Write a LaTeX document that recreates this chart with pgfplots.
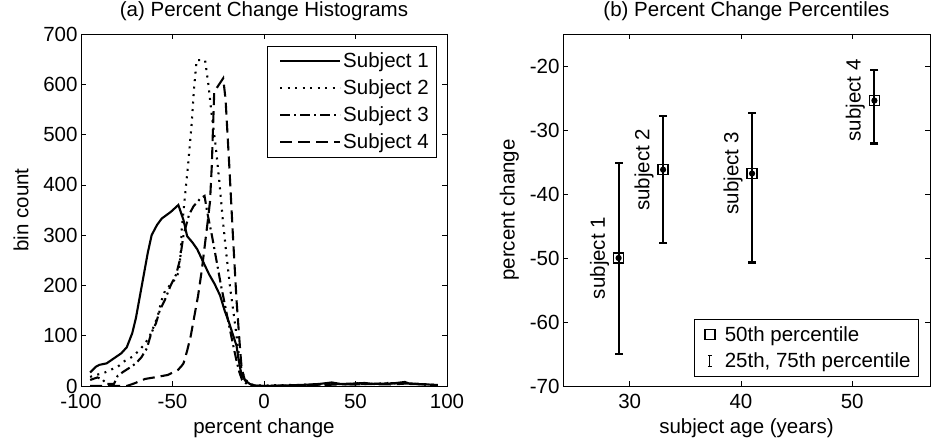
\documentclass[border=0pt]{standalone}
\usepackage{fontspec}
\setmainfont{Liberation Sans}
\usepackage{pgfplots}
\pgfplotsset{compat=1.18}

\newcommand\ff{\fontsize{20.5}{24}\selectfont}

\pgfplotsset{
  matstyle/.style={
    scale only axis,
    height=352pt,
    anchor=south west,
    axis line style={line width=0.8pt},
    tick align=inside,
    major tick length=5pt,
    tick style={line width=0.6pt, black},
    font=\ff,
    /pgf/number format/assume math mode=true,
    ticklabel style={font=\ff},
    xticklabel style={yshift=-5pt},
    every axis title shift=0pt,
    title style={at={(axis description cs:0.5,1.0645)}, anchor=center, font=\ff},
    xlabel style={at={(axis description cs:0.5,-0.12)}, anchor=center, font=\ff},
    legend style={font=\ff, draw=black, line width=0.8pt,
      nodes={inner sep=2pt}, row sep=6.5pt, inner xsep=6pt, inner ysep=5pt},
    legend cell align=left,
    every axis plot/.append style={black, line width=2.1pt},
  },
  linelegend/.style={legend image code/.code={\path (-6pt,0pt); \draw[##1] (0pt,0pt) -- (60pt,0pt);}},
  sqlegend/.style={legend image code/.code={\path (0pt,0pt) (0.3cm+12pt,0pt);
    \draw[##1] plot coordinates {(0.3cm,0cm)};}},
}

\begin{document}
\begin{tikzpicture}
\useasboundingbox (0pt,0pt) rectangle (946pt,443pt);

% (a) histograms
\begin{axis}[matstyle, linelegend,
  at={(81pt,57pt)}, width=366pt,
  xmin=-100, xmax=100, ymin=0, ymax=700,
  xtick={-100,-50,0,50,100}, ytick={0,100,...,700},
  title={(a) Percent Change Histograms},
  xlabel={percent change}, ylabel={bin count},
  ylabel style={at={(axis description cs:-0.164,0.5)}, anchor=center, font=\ff},
  legend style={at={(axis description cs:0.973,0.967)}, anchor=north east},
]
\addplot[solid, mark=none] coordinates {(-95,27)(-92,38)(-90,42)(-86,45)(-82,55)(-78,65)(-75,77)(-72,105)(-70,135)(-68,175)(-66,215)(-63.5,265)(-61.4,300)(-58.5,320)(-55.9,333)(-51,346)(-46.8,360)(-44,330)(-42,298)(-39,285)(-36.5,272)(-33,245)(-30,222)(-27,203)(-24,180)(-21.5,150)(-19,125)(-17,102)(-15,80)(-14,55)(-13,35)(-12,20)(-10,10)(-7.7,4)(-5,1)(0,0)(10,1)(20,2)(30,4)(37,7)(42,4)(50,5)(55,6)(60,4)(70,5)(77,8)(80,4)(90,3)(95,1)};
\addlegendentry{Subject 1}
\addplot[mark=none, dash pattern=on 2pt off 5.5pt] coordinates {(-95,18)(-92,22)(-88,25)(-84,32)(-80,38)(-76,50)(-72,58)(-69,68)(-66,80)(-63,95)(-60,120)(-58,140)(-56,170)(-54,190)(-51,202)(-48,215)(-46.5,228)(-45.5,265)(-45,310)(-43.2,377)(-41.4,443)(-39.5,523)(-38.3,589)(-36.8,648)(-32.2,648)(-30.4,600)(-28.6,540)(-26.5,480)(-24.5,410)(-22.5,330)(-20.5,260)(-18.5,195)(-16.8,150)(-15,100)(-13.5,55)(-12,28)(-10,12)(-7.5,4)(-5,1)(0,1)(15,2)(30,3)(37,5)(45,3)(52,6)(60,4)(68,6)(75,5)(85,4)(95,2)};
\addlegendentry{Subject 2}
\addplot[mark=none, dash pattern=on 10pt off 4pt on 2pt off 4pt] coordinates {(-95,12)(-91,17)(-88,12)(-86,4)(-82,4)(-80,20)(-77,28)(-74,35)(-70,45)(-67,57)(-64,75)(-61.6,105)(-59,125)(-57,150)(-54.3,170)(-51,200)(-48,222)(-46,250)(-44,300)(-41,340)(-38.6,357)(-35,372)(-32.5,378)(-31,345)(-28.5,300)(-26,250)(-23.5,200)(-21,155)(-18.5,110)(-16.5,75)(-15,50)(-13.5,28)(-12,12)(-9,3)(-5,0)(0,0)(20,1)(35,4)(50,3)(65,5)(77,6)(95,1)};
\addlegendentry{Subject 3}
\addplot[mark=none, dash pattern=on 12pt off 6pt] coordinates {(-95,0)(-75,0)(-71,5)(-65,14)(-60,17)(-52.5,22)(-47,32)(-45,40)(-44,45)(-42,70)(-40,100)(-38,140)(-36,180)(-34,230)(-32,290)(-30.5,335)(-29.5,367)(-28.5,440)(-27.8,520)(-27.2,585)(-22.3,612)(-21,570)(-20,505)(-19,440)(-18,370)(-17,300)(-16,235)(-15,170)(-14,120)(-13,70)(-12.2,35)(-10.5,12)(-8,4)(-5,0)(0,0)(25,1)(40,3)(55,4)(70,3)(78,5)(95,2)};
\addlegendentry{Subject 4}
\end{axis}

% (b) percentiles
\begin{axis}[matstyle,
  at={(563pt,57pt)}, width=367pt,
  xmin=24, xmax=57, ymin=-70, ymax=-15,
  xtick={30,40,50}, ytick={-70,-60,...,-20},
  title={(b) Percent Change Percentiles},
  xlabel={subject age (years)}, ylabel={percent change},
  ylabel style={at={(axis description cs:-0.146,0.5)}, anchor=center, font=\ff},
  legend style={at={(axis description cs:0.97,0.026)}, anchor=south east},
]
% 25th-75th percentile bars
\addplot[only marks, mark=none, forget plot,
  error bars/.cd, y dir=both, y explicit, error mark=none,
  error bar style={draw=black, line width=2.2pt}]
  coordinates {
  (29,-50)   += (0,14.9) -= (0,15.0)
  (33,-36.2) += (0,8.4)  -= (0,11.5)
  (41,-36.8) += (0,9.5)  -= (0,13.9)
  (52,-25.4) += (0,4.8)  -= (0,6.7)
  };
% caps at 25th and 75th percentiles
\addplot[only marks, mark=-, mark size=4pt, mark options={line width=2.2pt}, forget plot]
  coordinates {(29,-35.1) (29,-65.0) (33,-27.8) (33,-47.7)
               (41,-27.3) (41,-50.7) (52,-20.6) (52,-32.1)};
% 50th percentile
\addplot[only marks, mark=square, mark size=5pt, mark options={line width=1.5pt}, sqlegend]
  coordinates {(29,-50) (33,-36.2) (41,-36.8) (52,-25.4)};
\addlegendentry{50th percentile}
\addlegendimage{legend image code/.code={
  \path (0pt,0pt) (0.3cm+12pt,0pt);
  \draw[line width=1.3pt] (0.3cm,-5.5pt) -- (0.3cm,5.5pt)
    (0.3cm-2pt,-5.5pt) -- (0.3cm+2pt,-5.5pt)
    (0.3cm-2pt,5.5pt) -- (0.3cm+2pt,5.5pt);}}
\addlegendentry{25th, 75th percentile}
\node[rotate=90, anchor=south, font=\ff] at ([xshift=-6pt]axis cs:29,-50) {subject 1};
\node[rotate=90, anchor=south, font=\ff] at ([xshift=-6pt]axis cs:33,-36.2) {subject 2};
\node[rotate=90, anchor=south, font=\ff] at ([xshift=-6pt]axis cs:41,-36.8) {subject 3};
\node[rotate=90, anchor=south, font=\ff] at ([xshift=-6pt]axis cs:52,-25.4) {subject 4};
\end{axis}
\end{tikzpicture}
\end{document}
